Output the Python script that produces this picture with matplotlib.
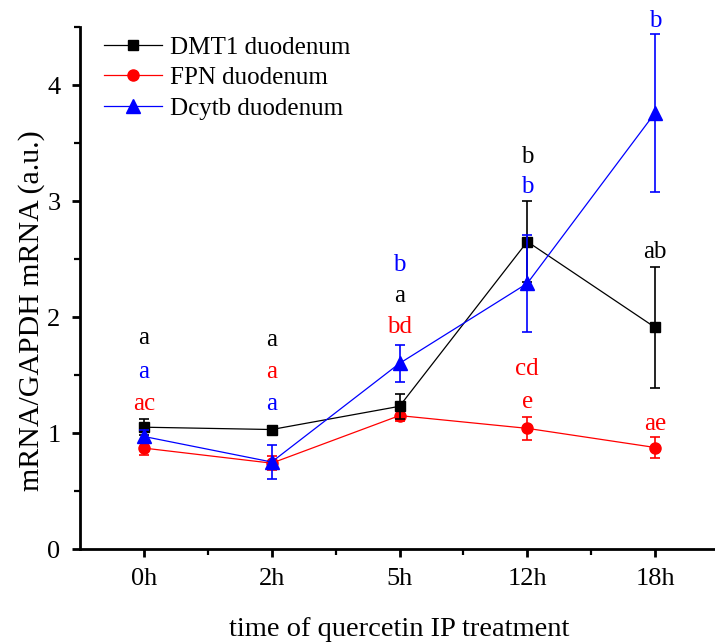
import matplotlib
matplotlib.use("Agg")
import matplotlib.pyplot as plt
from matplotlib.ticker import MultipleLocator, FixedLocator
from matplotlib.lines import Line2D

plt.rcParams['font.family'] = ['Liberation Serif', 'DejaVu Serif']

categories = ["0h", "2h", "5h", "12h", "18h"]

dmt1 = [1.05, 1.03, 1.23, 2.65, 1.91]
dmt1_err = [0.07, 0.03, 0.11, 0.35, 0.52]

fpn = [0.87, 0.74, 1.15, 1.04, 0.875]
fpn_err = [0.06, 0.06, 0.05, 0.10, 0.09]

dcytb = [0.97, 0.75, 1.60, 2.29, 3.76]
dcytb_err = [0.06, 0.15, 0.16, 0.42, 0.68]

# significance letters
dmt1_letter_x = [0, 1, 2, 3, 4]
dmt1_letters = ["a", "a", "a", "b", "ab"]
dmt1_letter_y = [1.82, 1.80, 2.18, 3.38, 2.56]
fpn_letter_x = [0, 1, 2, 3, 3, 4]
fpn_letters = ["ac", "a", "bd", "cd", "e", "ae"]
fpn_letter_y = [1.25, 1.53, 1.91, 1.55, 1.27, 1.08]
dcytb_letter_x = [0, 1, 2, 3, 4]
dcytb_letters = ["a", "a", "b", "b", "b"]
dcytb_letter_y = [1.53, 1.25, 2.45, 3.12, 4.55]

RED = '#FF0000'
BLUE = '#0000FF'

fig = plt.figure(figsize=(7.15, 6.43), dpi=100)
ax = fig.add_axes([80/715, 94/643, 639/715, 522/643])

x = list(range(len(categories)))
ekw = dict(lw=0.9, elinewidth=1.2, capsize=3.5, capthick=1.2)

ax.errorbar(x, fpn, yerr=fpn_err, color=RED, marker='o', markersize=8, zorder=2, **ekw)
ax.errorbar(x, dmt1, yerr=dmt1_err, color='black', marker='s', markersize=7.5, zorder=3, **ekw)
ax.errorbar(x, dcytb, yerr=dcytb_err, color=BLUE, marker='^', markersize=9.5, zorder=4, **ekw)

for xs, letters, ys, col in [(dmt1_letter_x, dmt1_letters, dmt1_letter_y, 'black'),
                             (fpn_letter_x, fpn_letters, fpn_letter_y, RED),
                             (dcytb_letter_x, dcytb_letters, dcytb_letter_y, BLUE)]:
    for xi, t, yy in zip(xs, letters, ys):
        ax.text(xi, yy, t, color=col, ha='center', va='center', fontsize=18,
                clip_on=False)

ax.set_xlim(-0.5, 4.5)
ax.set_ylim(0, 4.5)
ax.set_xticks(x)
ax.set_xticklabels(categories)
ax.xaxis.set_minor_locator(FixedLocator([0.5, 1.5, 2.5, 3.5]))
ax.yaxis.set_major_locator(MultipleLocator(1))
ax.yaxis.set_minor_locator(MultipleLocator(0.5))

for side in ['top', 'right']:
    ax.spines[side].set_visible(False)
for side in ['left', 'bottom']:
    ax.spines[side].set_linewidth(2.0)

ax.tick_params(axis='both', which='major', direction='out', length=6, width=2.0,
               labelsize=19)
ax.tick_params(axis='both', which='minor', direction='out', length=4, width=1.6)
ax.tick_params(axis='x', which='major', pad=8)
ax.tick_params(axis='y', which='major', pad=8)

ax.set_xlabel('time of quercetin IP treatment', fontsize=20.5)
ax.xaxis.set_label_coords(0.5, (549 - 617) / 522)
ax.set_ylabel('mRNA/GAPDH mRNA (a.u.)', fontsize=21.5)
ax.yaxis.set_label_coords((45 - 80) / 639, (549 - 311) / 522)

handles = [
    Line2D([], [], color='black', marker='s', markersize=7.5, lw=0.9),
    Line2D([], [], color=RED, marker='o', markersize=8, lw=0.9),
    Line2D([], [], color=BLUE, marker='^', markersize=9.5, lw=0.9),
]
labels = ['DMT1 duodenum', 'FPN duodenum', 'Dcytb duodenum']
ax.legend(handles, labels, loc='upper left', frameon=False, fontsize=18,
          handlelength=2.3, handletextpad=0.35, labelspacing=0.32,
          borderpad=0.0, borderaxespad=0.0,
          bbox_to_anchor=((104 - 80) / 639, (549 - 36) / 522))

fig.savefig('out.png', dpi=100)
